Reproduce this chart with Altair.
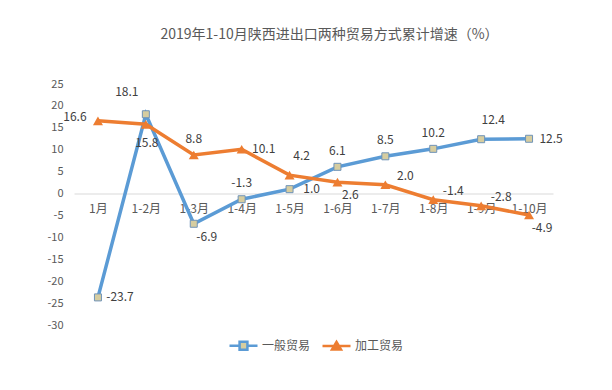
import altair as alt
import pandas as pd

months = ["1月", "1-2月", "1-3月", "1-4月", "1-5月", "1-6月", "1-7月", "1-8月", "1-9月", "1-10月"]
general = [-23.7, 18.1, -6.9, -1.3, 1.0, 6.1, 8.5, 10.2, 12.4, 12.5]
processing = [16.6, 15.8, 8.8, 10.1, 4.2, 2.6, 2.0, -1.4, -2.8, -4.9]
series_names = ["一般贸易", "加工贸易"]
general_label_pos = ["right", "above-left", "below-right", "above", "right",
                     "above", "above", "above", "above-right", "right"]
processing_label_pos = ["left", "below", "above", "right", "above-right",
                        "below-right", "right-up", "right-up", "right-up", "below-right"]

FONT = "Noto Sans CJK SC"
BLUE = "#5b9bd5"
ORANGE = "#ed7d31"
TAN = "#d6cda0"
GRAY = "#595959"

PLACE = {
    "right": (22, 0), "left": (-23, -4), "above": (0, -16), "below": (1, 19),
    "above-left": (-19, -22), "above-right": (12, -19), "below-right": (13, 13),
    "right-up": (20, -9),
}

rows = []
for m, v, p in zip(months, general, general_label_pos):
    rows.append({"month": m, "series": series_names[0], "value": v, "pos": p, "label": f"{v:.1f}"})
for m, v, p in zip(months, processing, processing_label_pos):
    rows.append({"month": m, "series": series_names[1], "value": v, "pos": p, "label": f"{v:.1f}"})
df = pd.DataFrame(rows)

x = alt.X("month:N", sort=months,
          scale=alt.Scale(type="point", padding=0.5),
          axis=alt.Axis(title=None, orient="bottom", offset=-131.5, domainColor="#d9d9d9",
                        domainWidth=1, ticks=False, labelPadding=10, labelColor=GRAY,
                        labelFontSize=12, labelAngle=0, labelFont=FONT))
y = alt.Y("value:Q",
          scale=alt.Scale(domain=[-30, 25], nice=False, zero=False),
          axis=alt.Axis(title=None, values=list(range(-30, 30, 5)), domain=False, ticks=False,
                        grid=False, labelPadding=11, labelColor=GRAY, labelFontSize=11,
                        labelFont=FONT, labelExpr="'' + datum.value"))

base = alt.Chart(df).encode(x=x, y=y)
gen = base.transform_filter(alt.datum.series == series_names[0])
pro = base.transform_filter(alt.datum.series == series_names[1])

line_gen = gen.mark_line(strokeWidth=3.5, color=BLUE)
line_pro = pro.mark_line(strokeWidth=3.5, color=ORANGE)
squares = gen.mark_square(size=49, fill=TAN, stroke="#6f93b8", strokeWidth=1, opacity=1)
triangles = pro.mark_point(shape="triangle-up", size=100, filled=True, color=ORANGE, opacity=1)

legend = alt.Legend(title=None, orient="none", legendX=154, legendY=246, direction="horizontal",
                    symbolSize=784, symbolStrokeWidth=2.5, symbolOpacity=1, labelFontSize=12,
                    labelColor=GRAY, labelFont=FONT, columnPadding=6, labelOffset=3, padding=0)
path_general = "M-1,0H-0.3M0.3,0H1M-0.28,-0.28H0.28V0.28H-0.28Z"
path_processing = "M-1,0H1M0,-0.3L0.32,0.24H-0.32Z"
legend_layer = base.mark_point(opacity=0, filled=True).encode(
    shape=alt.Shape("series:N", scale=alt.Scale(domain=series_names, range=[path_general, path_processing]), legend=legend),
    fill=alt.Fill("series:N", scale=alt.Scale(domain=series_names, range=[TAN, ORANGE]), legend=legend),
    stroke=alt.Stroke("series:N", scale=alt.Scale(domain=series_names, range=[BLUE, ORANGE]), legend=legend),
)

layers = [line_gen, line_pro, squares, triangles, legend_layer]
for pos, (dx, dy) in PLACE.items():
    layers.append(
        base.transform_filter(alt.datum.pos == pos)
        .mark_text(dx=dx, dy=dy, fontSize=12, color="#404040", font=FONT, align="center", baseline="middle")
        .encode(text="label:N")
    )

chart = alt.layer(*layers).properties(
    width=479, height=241,
    title=alt.Title("2019年1-10月陕西进出口两种贸易方式累计增速（%）", fontSize=14, color=GRAY,
                    font=FONT, fontWeight="normal", offset=36, dx=16, anchor="middle"),
    autosize=alt.AutoSizeParams(type="none"),
    padding={"left": 66, "top": 76, "right": 51, "bottom": 57},
    background="white",
).configure_view(stroke=None)

chart.save("out.html", embed_options={"renderer": "svg", "actions": False})
